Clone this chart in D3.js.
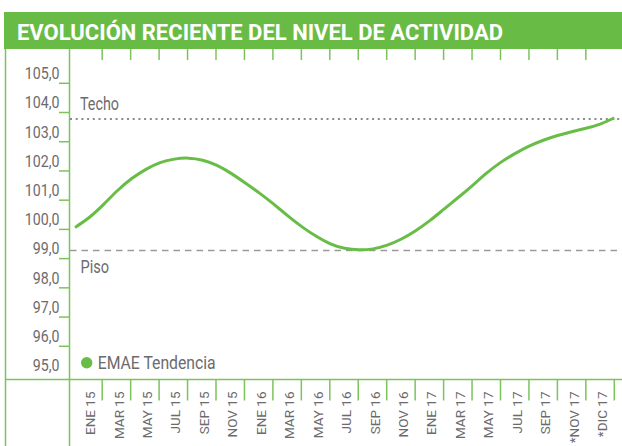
<!DOCTYPE html>
<html><head><meta charset="utf-8">
<script src="https://cdn.jsdelivr.net/npm/d3@7"></script>
<style>html,body{margin:0;padding:0;background:#fff;} svg{display:block;}</style>
</head><body>
<script>
const title = "EVOLUCIÓN RECIENTE DEL NIVEL DE ACTIVIDAD";
const categories = ["ENE 15","MAR 15","MAY 15","JUL 15","SEP 15","NOV 15","ENE 16","MAR 16","MAY 16","JUL 16","SEP 16","NOV 16","ENE 17","MAR 17","MAY 17","JUL 17","SEP 17","*NOV 17","*DIC 17"];
const yTickValues = [95,96,97,98,99,100,101,102,103,104,105];
const emaeTendencia = [99.79,100.11,100.56,101.07,101.48,101.79,102.03,102.14,102.18,102.11,101.93,101.65,101.31,100.97,100.59,100.18,99.80,99.48,99.21,99.06,99.01,99.04,99.17,99.38,99.67,100.01,100.42,100.81,101.22,101.66,102.03,102.32,102.58,102.78,102.94,103.07,103.18,103.31,103.54];
const techoValue = 103.5, pisoValue = 99.0;
const techoLabel = "Techo", pisoLabel = "Piso";
const legendLabel = "EMAE Tendencia";

const W = 622, H = 446;
const green = "#68bc45", frame = "#7cc35c", grey = "#6b6b6d";
const FONT = "Roboto, 'Open Sans', sans-serif";

const svg = d3.select("body").append("svg").attr("width", W).attr("height", H);

// title bar
svg.append("rect").attr("x", 4).attr("y", 12).attr("width", W - 4).attr("height", 37).attr("fill", green);
svg.append("text").attr("x", 17).attr("y", 39.5).text(title)
  .attr("fill", "#fff").attr("font-family", FONT).attr("font-weight", 700).attr("font-size", 22.5)
  .attr("textLength", 486).attr("lengthAdjust", "spacingAndGlyphs");

// scales
const x = d3.scaleBand().domain(categories).range([73.75, 614.3]).padding(0);
const xLine = d3.scaleLinear().domain([0, emaeTendencia.length - 1]).range([75, 614.3]);
const y = d3.scaleLinear().domain([95, 105]).range([367.4, 75.2]);
const step = y(95) - y(96);

// frame lines
const g = svg.append("g").attr("stroke", frame).attr("stroke-width", 1.5);
g.append("line").attr("x1", 5.5).attr("x2", 5.5).attr("y1", 49).attr("y2", H);
g.append("line").attr("x1", 69.5).attr("x2", 69.5).attr("y1", 49).attr("y2", H);
g.append("line").attr("x1", 5).attr("x2", W).attr("y1", 379.5).attr("y2", 379.5);
// y ticks (between labels)
g.selectAll(".yt").data(yTickValues.slice(1)).join("line")
  .attr("x1", 59).attr("x2", 69.5)
  .attr("y1", d => y(d) + step * 0.277).attr("y2", d => y(d) + step * 0.277);
// bottom x ticks (band boundaries)
const bounds = categories.map((c, i) => x(c) + x.step());
g.selectAll(".bt").data(bounds).join("line")
  .attr("x1", d => d).attr("x2", d => d).attr("y1", 379.5).attr("y2", 400.5);
// top ticks
g.selectAll(".tt").data(bounds.slice(0, -1)).join("line")
  .attr("x1", d => d).attr("x2", d => d).attr("y1", 49).attr("y2", 60);

// y labels
const fmt = v => d3.format(".1f")(v).replace(".", ",");
svg.selectAll(".yl").data(yTickValues).join("text")
  .attr("transform", d => `translate(59.5,${y(d) - 2}) scale(0.86,1)`)
  .attr("text-anchor", "end").attr("dy", "0.355em")
  .attr("font-family", FONT).attr("font-size", 16.5).attr("fill", grey)
  .text(fmt);

// x labels
svg.selectAll(".xl").data(categories).join("text")
  .attr("transform", d => `translate(${x(d) + x.bandwidth() / 2 + 2.3},391.5) rotate(-90)`)
  .attr("text-anchor", "end").attr("dy", "0.355em")
  .attr("font-family", FONT).attr("font-size", 13.5).attr("fill", grey)
  .text(d => d);

// reference lines
svg.append("line").attr("x1", 70).attr("x2", W).attr("y1", y(techoValue)).attr("y2", y(techoValue))
  .attr("stroke", "#8a8a8c").attr("stroke-width", 2).attr("stroke-dasharray", "2,3.7");
svg.append("line").attr("x1", 70).attr("x2", W).attr("y1", y(pisoValue)).attr("y2", y(pisoValue))
  .attr("stroke", "#9a9a9c").attr("stroke-width", 1.5).attr("stroke-dasharray", "6.5,5");
svg.append("text").attr("x", 80).attr("y", y(techoValue) - 9).text(techoLabel)
  .attr("font-family", FONT).attr("font-size", 18).attr("fill", grey)
  .attr("textLength", 39).attr("lengthAdjust", "spacingAndGlyphs");
svg.append("text").attr("x", 80.5).attr("y", y(pisoValue) + 22).text(pisoLabel)
  .attr("font-family", FONT).attr("font-size", 18).attr("fill", grey)
  .attr("textLength", 28.6).attr("lengthAdjust", "spacingAndGlyphs");

// series line
const line = d3.line().x((d, i) => xLine(i)).y(d => y(d)).curve(d3.curveBasis);
svg.append("path").datum(emaeTendencia).attr("d", line)
  .attr("fill", "none").attr("stroke", "#67bd45").attr("stroke-width", 3);

// legend
svg.append("circle").attr("cx", 86.7).attr("cy", 362.7).attr("r", 5.7).attr("fill", "#67bd45");
svg.append("text").attr("x", 97.7).attr("y", 368.5).text(legendLabel)
  .attr("font-family", FONT).attr("font-size", 18).attr("fill", grey)
  .attr("textLength", 118).attr("lengthAdjust", "spacingAndGlyphs");
</script>
</body></html>
